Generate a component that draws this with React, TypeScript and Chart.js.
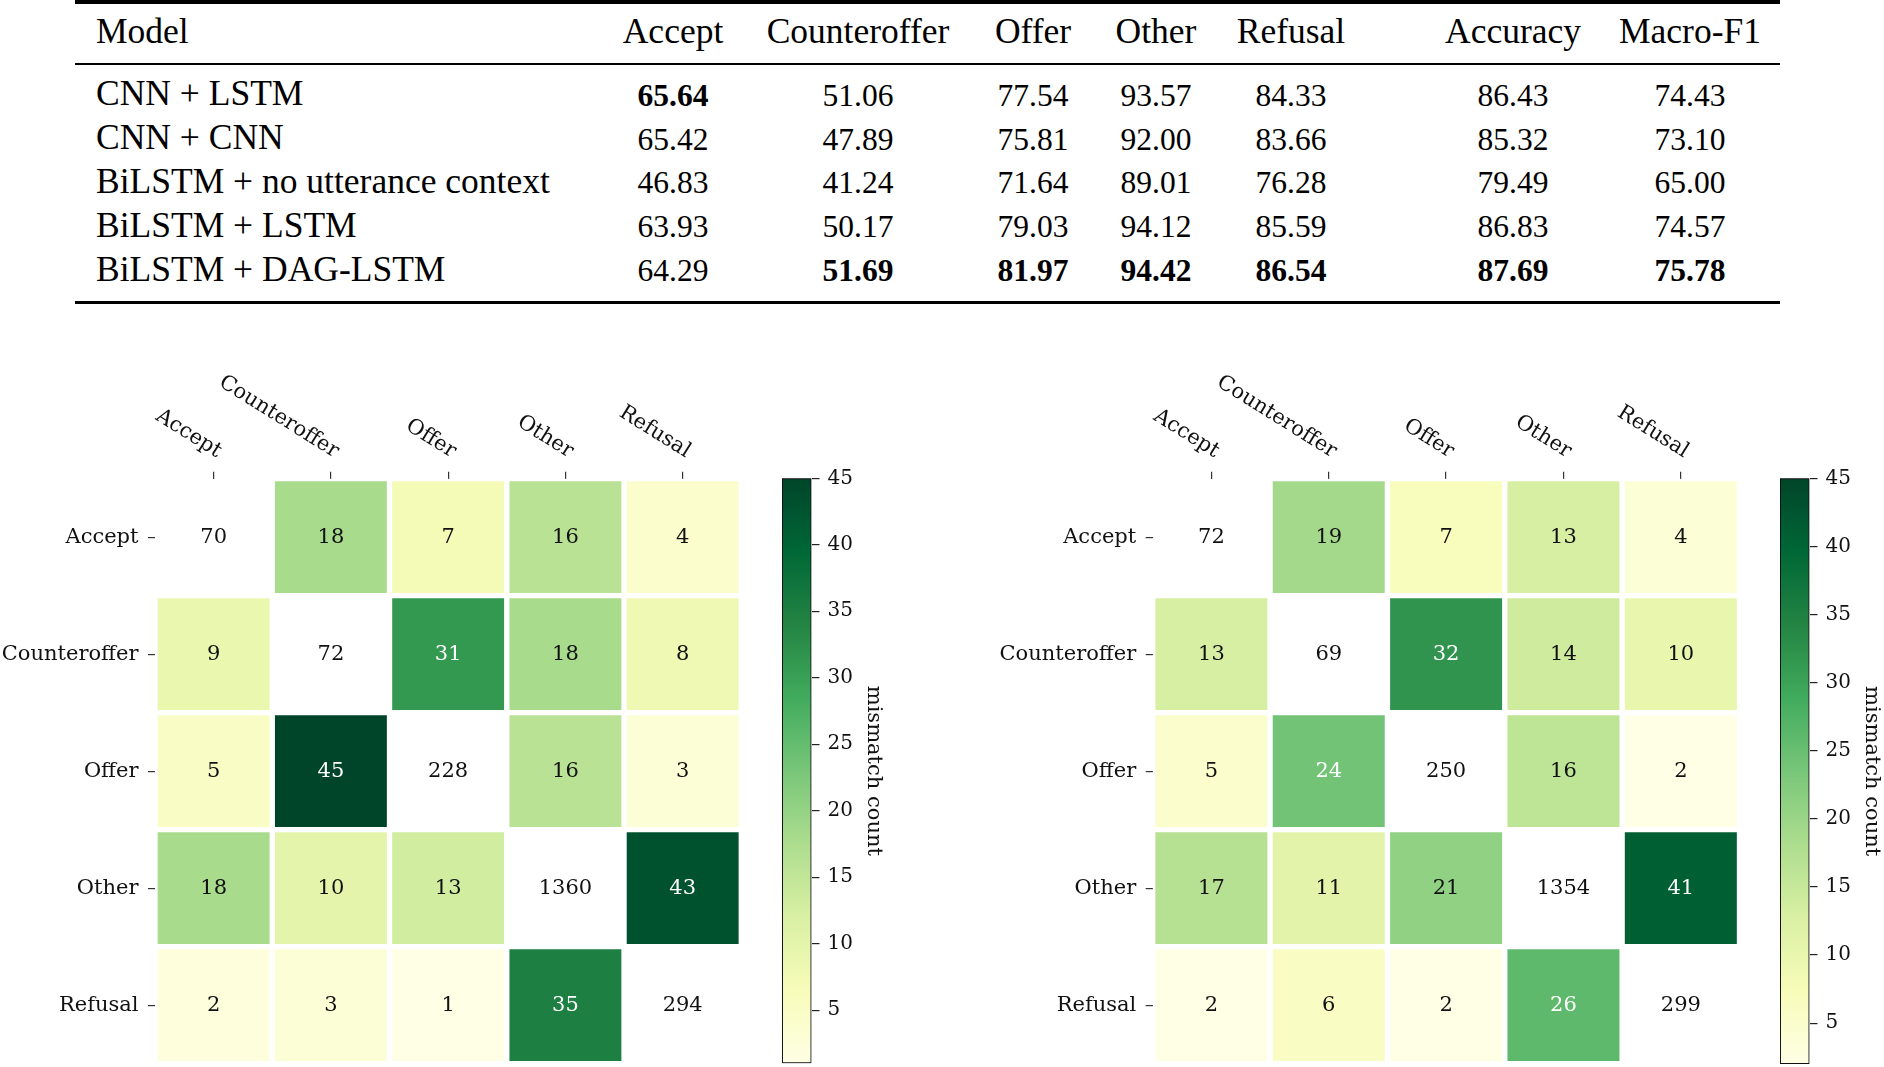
import React, { useEffect, useRef } from "react";
import { Chart, registerables } from "chart.js";

Chart.register(...registerables);

// ---------------- Table data ----------------
const tableHeaders = ["Accept", "Counteroffer", "Offer", "Other", "Refusal", "Accuracy", "Macro-F1"];
const modelNames = [
  "CNN + LSTM",
  "CNN + CNN",
  "BiLSTM + no utterance context",
  "BiLSTM + LSTM",
  "BiLSTM + DAG-LSTM",
];
const cnnLstmScores = [65.64, 51.06, 77.54, 93.57, 84.33, 86.43, 74.43];
const cnnCnnScores = [65.42, 47.89, 75.81, 92.0, 83.66, 85.32, 73.1];
const biLstmNoCtxScores = [46.83, 41.24, 71.64, 89.01, 76.28, 79.49, 65.0];
const biLstmLstmScores = [63.93, 50.17, 79.03, 94.12, 85.59, 86.83, 74.57];
const biLstmDagScores = [64.29, 51.69, 81.97, 94.42, 86.54, 87.69, 75.78];
const modelScores = [cnnLstmScores, cnnCnnScores, biLstmNoCtxScores, biLstmLstmScores, biLstmDagScores];

// ---------------- Heatmap data ----------------
const classLabels = ["Accept", "Counteroffer", "Offer", "Other", "Refusal"];
const leftMatrix = [
  [70, 18, 7, 16, 4],
  [9, 72, 31, 18, 8],
  [5, 45, 228, 16, 3],
  [18, 10, 13, 1360, 43],
  [2, 3, 1, 35, 294],
];
const rightMatrix = [
  [72, 19, 7, 13, 4],
  [13, 69, 32, 14, 10],
  [5, 24, 250, 16, 2],
  [17, 11, 21, 1354, 41],
  [2, 6, 2, 26, 299],
];
const colorbarTicks = [5, 10, 15, 20, 25, 30, 35, 40, 45];
const colorScaleMax = 45;
const colorbarTitle = "mismatch count";

// ---------------- Styling helpers ----------------
const YLGN = ["#ffffe5", "#f7fcb9", "#d9f0a3", "#addd8e", "#78c679", "#41ab5d", "#238443", "#006837", "#004529"];
const SERIF_TABLE = '"Liberation Serif", "Times New Roman", serif';
const SERIF_PLOT = '"DejaVu Serif", serif';

function hexToRgb(h: string) {
  const n = parseInt(h.slice(1), 16);
  return [(n >> 16) & 255, (n >> 8) & 255, n & 255];
}
function ylgn(t: number) {
  const tt = Math.max(0, Math.min(1, t));
  const pos = tt * (YLGN.length - 1);
  const i = Math.min(Math.floor(pos), YLGN.length - 2);
  const f = pos - i;
  const a = hexToRgb(YLGN[i]);
  const b = hexToRgb(YLGN[i + 1]);
  const c = a.map((v, k) => Math.round(v + (b[k] - v) * f));
  return `rgb(${c[0]},${c[1]},${c[2]})`;
}
function offDiagMin(m: number[][]) {
  let mn = Infinity;
  m.forEach((row, r) => row.forEach((v, c) => { if (r !== c && v < mn) mn = v; }));
  return mn;
}

type Geo = { left: number; top: number; width: number; height: number; axisW: number; axisH: number; padR: number; padB: number };

function Heatmap({ matrix, geo }: { matrix: number[][]; geo: Geo }) {
  const ref = useRef<HTMLCanvasElement>(null);
  useEffect(() => {
    const vmin = offDiagMin(matrix);
    const vmax = colorScaleMax;
    const norm = (v: number) => (v - vmin) / (vmax - vmin);
    const datasets = matrix.map((row, r) => ({
      label: classLabels[r],
      data: row.map((_v, c) => (r === c ? null : [r - 0.5, r + 0.5])),
      backgroundColor: row.map((v) => ylgn(norm(v))),
      borderColor: "#ffffff",
      borderWidth: 3,
      borderSkipped: false,
      grouped: false,
      barPercentage: 1,
      categoryPercentage: 1,
    }));
    const labelPlugin = {
      id: "cellLabels",
      afterDatasetsDraw(chart: any) {
        const { ctx, chartArea } = chart;
        const xs = chart.scales.x;
        const ys = chart.scales.y;
        ctx.save();
        ctx.font = `21px ${SERIF_PLOT}`;
        ctx.textAlign = "center";
        ctx.textBaseline = "middle";
        matrix.forEach((row, r) =>
          row.forEach((v, c) => {
            ctx.fillStyle = r !== c && norm(v) > 0.5 ? "#ffffff" : "#111111";
            ctx.fillText(String(v), xs.getPixelForValue(c), ys.getPixelForValue(r));
          })
        );
        ctx.fillStyle = "#111111";
        classLabels.forEach((lab, c) => {
          ctx.save();
          ctx.translate(xs.getPixelForValue(c) + 3, chartArea.top - 21);
          ctx.rotate((32 * Math.PI) / 180);
          ctx.textAlign = "right";
          ctx.textBaseline = "alphabetic";
          ctx.fillText(lab, 0, 0);
          ctx.restore();
        });
        ctx.restore();
      },
    };
    const chart = new Chart(ref.current as HTMLCanvasElement, {
      type: "bar",
      data: { labels: classLabels, datasets: datasets as any },
      options: {
        animation: false,
        responsive: false,
        maintainAspectRatio: false,
        layout: { autoPadding: false, padding: { left: 0, top: 0, right: geo.padR, bottom: geo.padB } },
        plugins: { legend: { display: false }, tooltip: { enabled: false } },
        scales: {
          x: {
            type: "category",
            position: "top",
            offset: true,
            grid: { display: true, drawOnChartArea: false, drawTicks: true, tickLength: 7, offset: false, color: "#333", lineWidth: 1.2 },
            border: { display: false },
            ticks: { display: false },
            afterFit: (s: any) => { s.height = geo.axisH; s.paddingLeft = 0; s.paddingRight = 0; s.paddingTop = 0; s.paddingBottom = 0; },
          },
          y: {
            type: "linear",
            reverse: true,
            min: -0.5,
            max: 4.5,
            bounds: "data",
            afterBuildTicks: (s: any) => { s.ticks = classLabels.map((_l, i) => ({ value: i })); },
            ticks: {
              callback: (v: any) => classLabels[Math.round(Number(v))],
              font: { family: SERIF_PLOT, size: 21 },
              color: "#111",
              padding: 9.5,
            },
            grid: { display: true, drawOnChartArea: false, drawTicks: true, tickLength: 7, color: "#333", lineWidth: 1.2 },
            border: { display: false },
            afterFit: (s: any) => { s.width = geo.axisW; s.paddingLeft = 0; s.paddingRight = 0; s.paddingTop = 0; s.paddingBottom = 0; },
          },
        },
      } as any,
      plugins: [labelPlugin],
    });
    return () => chart.destroy();
  }, [matrix, geo]);
  return (
    <canvas
      ref={ref}
      width={geo.width}
      height={geo.height}
      style={{ position: "absolute", left: geo.left, top: geo.top, width: geo.width, height: geo.height, display: "block" }}
    />
  );
}

type CbGeo = { left: number; top: number; width: number; height: number; padL: number; padT: number; padB: number; axisW: number };

function Colorbar({ matrix, geo }: { matrix: number[][]; geo: CbGeo }) {
  const ref = useRef<HTMLCanvasElement>(null);
  useEffect(() => {
    const vmin = offDiagMin(matrix);
    const vmax = colorScaleMax;
    const chart = new Chart(ref.current as HTMLCanvasElement, {
      type: "bar",
      data: {
        labels: [""],
        datasets: [
          {
            data: [[vmin, vmax]] as any,
            backgroundColor: (ctx: any) => {
              const ca = ctx.chart.chartArea;
              if (!ca) return YLGN[0];
              const g = ctx.chart.ctx.createLinearGradient(0, ca.bottom, 0, ca.top);
              YLGN.forEach((c, i) => g.addColorStop(i / (YLGN.length - 1), c));
              return g;
            },
            borderColor: "#111",
            borderWidth: 1.3,
            borderSkipped: false,
            barPercentage: 1,
            categoryPercentage: 1,
          } as any,
        ],
      },
      options: {
        animation: false,
        responsive: false,
        maintainAspectRatio: false,
        layout: { autoPadding: false, padding: { left: geo.padL, top: geo.padT, right: 0, bottom: geo.padB } },
        plugins: { legend: { display: false }, tooltip: { enabled: false } },
        scales: {
          x: { display: false },
          y: {
            type: "linear",
            position: "right",
            min: vmin,
            max: vmax,
            bounds: "data",
            afterBuildTicks: (s: any) => { s.ticks = colorbarTicks.map((v) => ({ value: v })); },
            ticks: { font: { family: SERIF_PLOT, size: 20 }, color: "#111", padding: 8 },
            grid: { display: true, drawOnChartArea: false, drawTicks: true, tickLength: 8, color: "#222", lineWidth: 1.2 },
            border: { display: false },
            title: { display: true, text: colorbarTitle, font: { family: SERIF_PLOT, size: 21 }, color: "#111", padding: { top: 0, bottom: 0 } },
            afterFit: (s: any) => { s.width = geo.axisW; s.paddingLeft = 0; s.paddingRight = 0; s.paddingTop = 0; s.paddingBottom = 0; },
          },
        },
      } as any,
    });
    return () => chart.destroy();
  }, [matrix, geo]);
  return (
    <canvas
      ref={ref}
      width={geo.width}
      height={geo.height}
      style={{ position: "absolute", left: geo.left, top: geo.top, width: geo.width, height: geo.height, display: "block" }}
    />
  );
}

// ---------------- Table layout ----------------
const colCenters = [673, 858, 1033, 1156, 1291, 1513, 1690];
const headerBaseline = 44;
const rowBaseline0 = 106;
const rowStep = 43.9;
const textFont = 35.5;
const numberFont = 31.5;

function TextAt({ x, baseline, text, bold, align, size }: { x: number; baseline: number; text: string; bold?: boolean; align: "left" | "center"; size: number }) {
  const w = 320;
  return (
    <div
      style={{
        position: "absolute",
        left: align === "left" ? x : x - w / 2,
        width: w,
        top: baseline - size * 0.8375,
        fontFamily: SERIF_TABLE,
        fontSize: size,
        lineHeight: `${size}px`,
        fontWeight: bold ? 700 : 400,
        textAlign: align,
        whiteSpace: "nowrap",
        color: "#000",
      }}
    >
      {text}
    </div>
  );
}

function ResultsTable() {
  const colMax = tableHeaders.map((_h, j) => Math.max(...modelScores.map((r) => r[j])));
  const rule = (top: number, h: number) => (
    <div style={{ position: "absolute", left: 75, width: 1705, top, height: h, background: "#000" }} />
  );
  return (
    <>
      {rule(0, 3.5)}
      {rule(63, 2)}
      {rule(300.5, 3.5)}
      <TextAt x={96} baseline={headerBaseline} text="Model" align="left" size={textFont} />
      {tableHeaders.map((h, j) => (
        <TextAt key={h} x={colCenters[j]} baseline={headerBaseline} text={h} align="center" size={textFont} />
      ))}
      {modelNames.map((m, i) => (
        <React.Fragment key={m}>
          <TextAt x={96} baseline={rowBaseline0 + rowStep * i} text={m} align="left" size={textFont} />
          {modelScores[i].map((v, j) => (
            <TextAt
              key={j}
              x={colCenters[j]}
              baseline={rowBaseline0 + rowStep * i}
              text={v.toFixed(2)}
              bold={v === colMax[j]}
              align="center"
              size={numberFont}
            />
          ))}
        </React.Fragment>
      ))}
    </>
  );
}

const leftGeo: Geo = { left: 0, top: 370, width: 746, height: 697, axisW: 155, axisH: 108.7, padR: 4.7, padB: 3.3 };
const rightGeo: Geo = { left: 1000, top: 370, width: 745, height: 697, axisW: 152.7, axisH: 108.7, padR: 5.5, padB: 3.3 };
const leftCbGeo: CbGeo = { left: 770, top: 440, width: 116, height: 627, padL: 12, padT: 38.3, padB: 3.7, axisW: 74.5 };
const rightCbGeo: CbGeo = { left: 1768, top: 440, width: 116, height: 627, padL: 12, padT: 38.3, padB: 3, axisW: 74.5 };

export default function App() {
  return (
    <div style={{ position: "absolute", left: 0, top: 0, width: 1884, height: 1067, background: "#fff", overflow: "hidden" }}>
      <ResultsTable />
      <Heatmap matrix={leftMatrix} geo={leftGeo} />
      <Colorbar matrix={leftMatrix} geo={leftCbGeo} />
      <Heatmap matrix={rightMatrix} geo={rightGeo} />
      <Colorbar matrix={rightMatrix} geo={rightCbGeo} />
    </div>
  );
}
